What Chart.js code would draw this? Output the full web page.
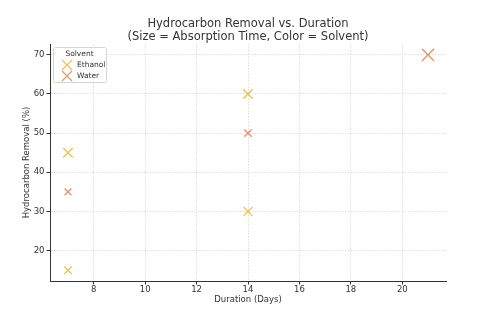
<!DOCTYPE html>
<html>
<head>
<meta charset="utf-8">
<script src="https://cdn.jsdelivr.net/npm/chart.js@4"></script>
<style>
  html, body { margin: 0; padding: 0; background: #fff; }
  #wrap { width: 480px; height: 313px; }
</style>
</head>
<body>
<div id="wrap"><canvas id="scatter"></canvas></div>
<script>
// data
let ethanolDays = [7, 7, 14, 14];
let ethanolRemoval = [45, 15, 60, 30];
let ethanolAbsorption = [28, 22, 28, 26];
let waterDays = [7, 14, 21];
let waterRemoval = [35, 50, 70];
let waterAbsorption = [20, 22, 36];
let xTicks = [8, 10, 12, 14, 16, 18, 20];
let yTicks = [20, 30, 40, 50, 60, 70];
let titleLines = ['Hydrocarbon Removal vs. Duration', '(Size = Absorption Time, Color = Solvent)'];

const ETHANOL_COLOR = 'rgba(242, 180, 60, 0.85)';
const WATER_COLOR = 'rgba(228, 138, 90, 0.9)';
const FONT = 'DejaVu Sans';

function toPoints(xs, ys) {
    let pts = [];
    for (let i = 0; i < xs.length; i++) {
        pts.push({ x: xs[i], y: ys[i] });
    }
    return pts;
}
function toRadius(list) {
    return list.map(function (a) { return a * 0.24; });
}

// title centred over the plot area (the built-in one centres on the whole canvas)
const plotTitle = {
    id: 'plotTitle',
    afterDraw: function (chart) {
        let ctx = chart.ctx;
        let area = chart.chartArea;
        let cx = (area.left + area.right) / 2;
        ctx.save();
        ctx.fillStyle = '#333';
        ctx.font = '11.5px "' + FONT + '"';
        ctx.textAlign = 'center';
        ctx.textBaseline = 'middle';
        ctx.fillText(titleLines[0], cx, 24);
        ctx.fillText(titleLines[1], cx, 37);
        ctx.restore();
    }
};

// legend drawn inside the plot (top-left), like the original
const innerLegend = {
    id: 'innerLegend',
    afterDraw: function (chart) {
        let ctx = chart.ctx;
        let area = chart.chartArea;
        let x = area.left + 3, y = area.top + 3, w = 53, h = 35;
        ctx.save();
        ctx.fillStyle = 'rgba(255,255,255,0.85)';
        ctx.strokeStyle = '#d6d6d6';
        ctx.lineWidth = 1;
        ctx.beginPath();
        ctx.roundRect(x + 0.5, y + 0.5, w, h, 2);
        ctx.fill();
        ctx.stroke();
        ctx.fillStyle = '#333';
        ctx.font = '7.5px "' + FONT + '"';
        ctx.textBaseline = 'middle';
        ctx.textAlign = 'center';
        ctx.fillText('Solvent', x + w / 2, y + 7);
        let rows = [['Ethanol', ETHANOL_COLOR], ['Water', WATER_COLOR]];
        ctx.textAlign = 'left';
        rows.forEach(function (row, i) {
            let cy = y + 18 + i * 11;
            let cx = x + 14;
            ctx.strokeStyle = row[1];
            ctx.lineWidth = 1.3;
            ctx.beginPath();
            ctx.moveTo(cx - 5, cy - 5); ctx.lineTo(cx + 5, cy + 5);
            ctx.moveTo(cx - 5, cy + 5); ctx.lineTo(cx + 5, cy - 5);
            ctx.stroke();
            ctx.fillStyle = '#333';
            ctx.fillText(row[0], x + 24, cy);
        });
        ctx.restore();
    }
};

let gridOpts = {
    color: '#dedede',
    tickColor: '#333',
    tickBorderDash: [],
    tickLength: 3.5
};
let borderOpts = { display: true, color: '#333', width: 1, dash: [1.5, 1.5] };

let canvas = document.getElementById('scatter');
new Chart(canvas.getContext('2d'), {
    type: 'scatter',
    data: {
        datasets: [{
            label: 'Ethanol',
            data: toPoints(ethanolDays, ethanolRemoval),
            pointStyle: 'crossRot',
            pointRadius: toRadius(ethanolAbsorption),
            borderColor: ETHANOL_COLOR,
            backgroundColor: ETHANOL_COLOR,
            borderWidth: 1.4
        }, {
            label: 'Water',
            data: toPoints(waterDays, waterRemoval),
            pointStyle: 'crossRot',
            pointRadius: toRadius(waterAbsorption),
            borderColor: WATER_COLOR,
            backgroundColor: WATER_COLOR,
            borderWidth: 1.4
        }]
    },
    options: {
        responsive: true,
        maintainAspectRatio: false,
        animation: false,
        layout: { padding: { left: 22, right: 34, top: 44, bottom: 8 } },
        plugins: {
            legend: { display: false },
            tooltip: { enabled: false },
            title: { display: false }
        },
        scales: {
            x: {
                type: 'linear',
                min: 6.3,
                max: 21.7,
                afterBuildTicks: function (scale) {
                    scale.ticks = xTicks.map(function (v) { return { value: v }; });
                },
                afterFit: function (scale) { scale.height = 24; },
                border: borderOpts,
                grid: gridOpts,
                ticks: { color: '#333', font: { family: FONT, size: 8.5 }, padding: 0, maxRotation: 0 },
                title: {
                    display: true,
                    text: 'Duration (Days)',
                    color: '#333',
                    font: { family: FONT, size: 8.5 },
                    padding: { top: 1, bottom: 0 }
                }
            },
            y: {
                type: 'linear',
                min: 12.25,
                max: 72.75,
                afterBuildTicks: function (scale) {
                    scale.ticks = yTicks.map(function (v) { return { value: v }; });
                },
                afterFit: function (scale) { scale.width = 28; },
                border: borderOpts,
                grid: gridOpts,
                ticks: { color: '#333', font: { family: FONT, size: 8.5 }, padding: 2 },
                title: {
                    display: true,
                    text: 'Hydrocarbon Removal (%)',
                    color: '#333',
                    font: { family: FONT, size: 8.5 },
                    padding: { top: 0, bottom: 2 }
                }
            }
        }
    },
    plugins: [plotTitle, innerLegend]
});
</script>
</body>
</html>
